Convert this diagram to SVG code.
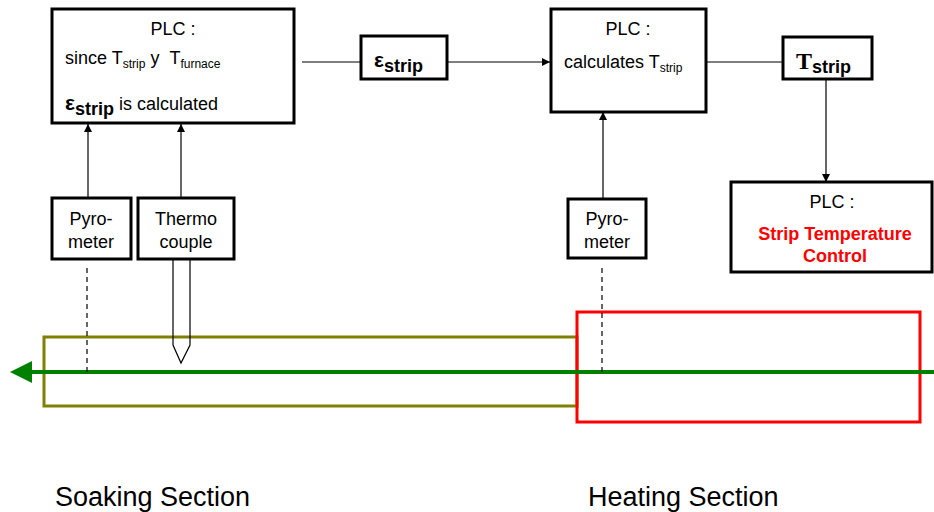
<svg xmlns="http://www.w3.org/2000/svg" width="934" height="512" viewBox="0 0 934 512">
<defs>
<style>
.box{fill:#fff;stroke:#000;stroke-width:3}
.t{font-family:"Liberation Sans",Arial,sans-serif;font-size:18px;fill:#000}
.c{text-anchor:middle}
.ln{stroke:#000;stroke-width:1.2;fill:none}
.dash{stroke:#000;stroke-width:1.2;stroke-dasharray:5,4;fill:none}
.red{fill:#ff0000;font-weight:bold}
.big{font-size:27px}
</style>
<marker id="ah" viewBox="0 0 10 10" refX="10" refY="5" markerWidth="8" markerHeight="8" markerUnits="userSpaceOnUse" orient="auto">
<path d="M0,0 L10,5 L0,10 z" fill="#000"/>
</marker>
</defs>

<g id="sections">
<rect x="44" y="337" width="533" height="69" fill="none" stroke="#808000" stroke-width="3"/>
<rect x="577" y="312" width="343" height="110" fill="none" stroke="#ff0000" stroke-width="3"/>
</g>

<g id="connectors">
<line x1="934" y1="372" x2="32" y2="372" stroke="#008000" stroke-width="4"/>
<path d="M32,361 L10,372 L32,383 z" fill="#008000"/>
<line class="ln" x1="302" y1="62" x2="360" y2="62"/>
<line class="ln" x1="448" y1="62" x2="550" y2="62" marker-end="url(#ah)"/>
<line class="ln" x1="706" y1="62" x2="782" y2="62"/>
<line class="ln" x1="826" y1="80" x2="826" y2="182" marker-end="url(#ah)"/>
<line class="ln" x1="88" y1="198" x2="88" y2="124" marker-end="url(#ah)"/>
<line class="ln" x1="181" y1="198" x2="181" y2="124" marker-end="url(#ah)"/>
<line class="ln" x1="603" y1="199" x2="603" y2="112" marker-end="url(#ah)"/>
<line class="dash" x1="87" y1="268" x2="87" y2="372"/>
<line class="dash" x1="602" y1="268" x2="602" y2="372"/>
<path class="ln" d="M173,259 L173,345 L181,363 L190,345 L190,259"/>
</g>

<g id="plc1">
<rect class="box" x="52" y="9" width="242" height="114"/>
<text class="t c" x="173" y="35">PLC :</text>
<text class="t" x="65" y="64">since T<tspan font-size="12" dy="4">strip</tspan><tspan dy="-4"> y&#160;&#160;T</tspan><tspan font-size="12" dy="4">furnace</tspan></text>
<text class="t" x="65" y="110"><tspan font-weight="bold" font-size="21">ε</tspan><tspan font-weight="bold" dy="5">strip</tspan><tspan dy="-5"> is calculated</tspan></text>
</g>

<g id="eps">
<rect class="box" x="361" y="36" width="86" height="43"/>
<text class="t" x="374" y="67"><tspan font-weight="bold" font-size="21">ε</tspan><tspan font-weight="bold" dy="5">strip</tspan></text>
</g>

<g id="plc2">
<rect class="box" x="551" y="9" width="155" height="103"/>
<text class="t c" x="628" y="35">PLC :</text>
<text class="t" x="564" y="68">calculates T<tspan font-size="12" dy="4">strip</tspan></text>
</g>

<g id="tstrip">
<rect class="box" x="783" y="37" width="89" height="42"/>
<text class="t" x="796" y="69"><tspan font-family="'Liberation Serif','Times New Roman',serif" font-weight="bold" font-size="24">T</tspan><tspan font-weight="bold" dy="4">strip</tspan></text>
</g>

<g id="plc3">
<rect class="box" x="731" y="182" width="201" height="90"/>
<text class="t c" x="832" y="208">PLC :</text>
<text class="t c red" x="835" y="240">Strip Temperature</text>
<text class="t c red" x="835" y="262">Control</text>
</g>

<g id="pyro1">
<rect class="box" x="52" y="198" width="79" height="61"/>
<text class="t c" x="91" y="225">Pyro-</text>
<text class="t c" x="91" y="248">meter</text>
</g>

<g id="thermo">
<rect class="box" x="138" y="198" width="96" height="61"/>
<text class="t c" x="186" y="225">Thermo</text>
<text class="t c" x="186" y="248">couple</text>
</g>

<g id="pyro2">
<rect class="box" x="568" y="199" width="78" height="59"/>
<text class="t c" x="607" y="225">Pyro-</text>
<text class="t c" x="607" y="248">meter</text>
</g>

<g id="labels">
<text class="t big" x="55" y="506">Soaking Section</text>
<text class="t big" x="588" y="506">Heating Section</text>
</g>
</svg>
